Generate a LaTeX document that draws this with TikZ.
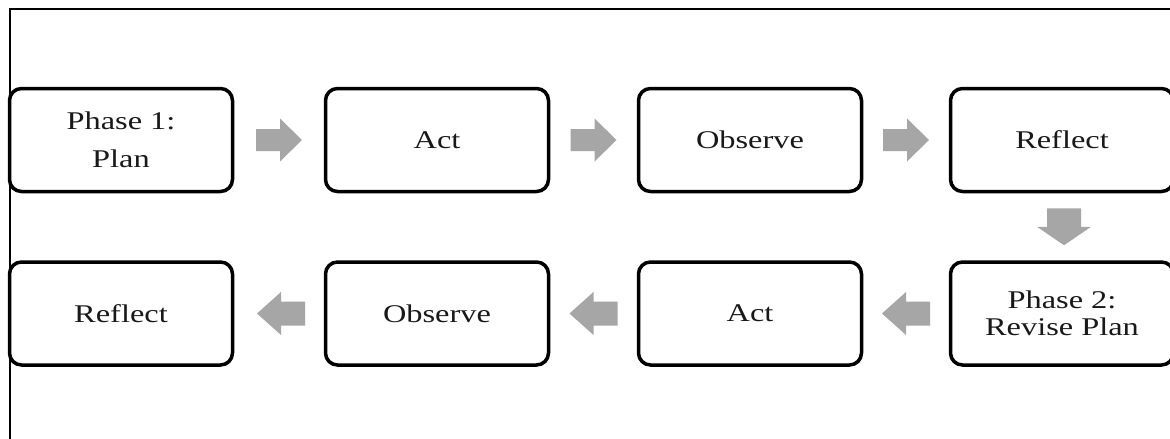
\documentclass[tikz,border=0pt]{standalone}
\usepackage{fontspec}
\setmainfont{Liberation Serif}[FakeStretch=1.27]
\begin{document}
\begin{tikzpicture}[x=1pt,y=-1pt,
  stepbox/.style={draw=black, line width=3.5pt, rounded corners=12pt, fill=white,
    minimum width=223pt, minimum height=103pt, inner sep=0pt, align=center,
    text=black!90, font=\fontsize{25.5}{27}\selectfont},
  rarrow/.pic={\fill[arrowgray] (-23,-11) -- (1,-11) -- (1,-21.5) -- (23,0) -- (1,21.5) -- (1,11) -- (-23,11) -- cycle;},
  larrow/.pic={\fill[arrowgray] (24,-12) -- (0,-12) -- (0,-21.5) -- (-24,0) -- (0,21.5) -- (0,12) -- (24,12) -- cycle;},
  darrow/.pic={\fill[arrowgray] (-17,-18.5) -- (17,-18.5) -- (17,0) -- (27,0) -- (0,18.5) -- (-27,0) -- (-17,0) -- cycle;}
]
\definecolor{arrowgray}{HTML}{A6A6A6}
\useasboundingbox (0,0) rectangle (1170,439);
\clip (0,0) rectangle (1170,439);
\fill[white] (0,0) rectangle (1170,439);
% frame
\draw[line width=2pt] (10,440) -- (10,9) -- (1171,9);
% row 1
\node[stepbox] (p1) at (121,140) {Phase 1:\\[11pt]Plan};
\node[stepbox] (a1) at (437,140) {Act};
\node[stepbox] (o1) at (750,140) {Observe};
\node[stepbox] (r1) at (1062,140) {Reflect};
% row 2
\node[stepbox] (p2) at (1062,313.5) {Phase 2:\\Revise Plan};
\node[stepbox] (a2) at (750,313.5) {Act};
\node[stepbox] (o2) at (437,313.5) {Observe};
\node[stepbox] (r2) at (121,313.5) {Reflect};
% connectors
\path (p1) -- coordinate[midway] (m1) (a1);
\path (a1) -- coordinate[midway] (m2) (o1);
\path (o1) -- coordinate[midway] (m3) (r1);
\path (r1) -- coordinate[midway] (m4) (p2);
\path (p2) -- coordinate[midway] (m5) (a2);
\path (a2) -- coordinate[midway] (m6) (o2);
\path (o2) -- coordinate[midway] (m7) (r2);
\pic at (m1) {rarrow};
\pic at (m2) {rarrow};
\pic at (m3) {rarrow};
\pic at ([xshift=2pt]m4) {darrow};
\pic at (m5) {larrow};
\pic at (m6) {larrow};
\pic at ([xshift=2pt]m7) {larrow};
\end{tikzpicture}
\end{document}
